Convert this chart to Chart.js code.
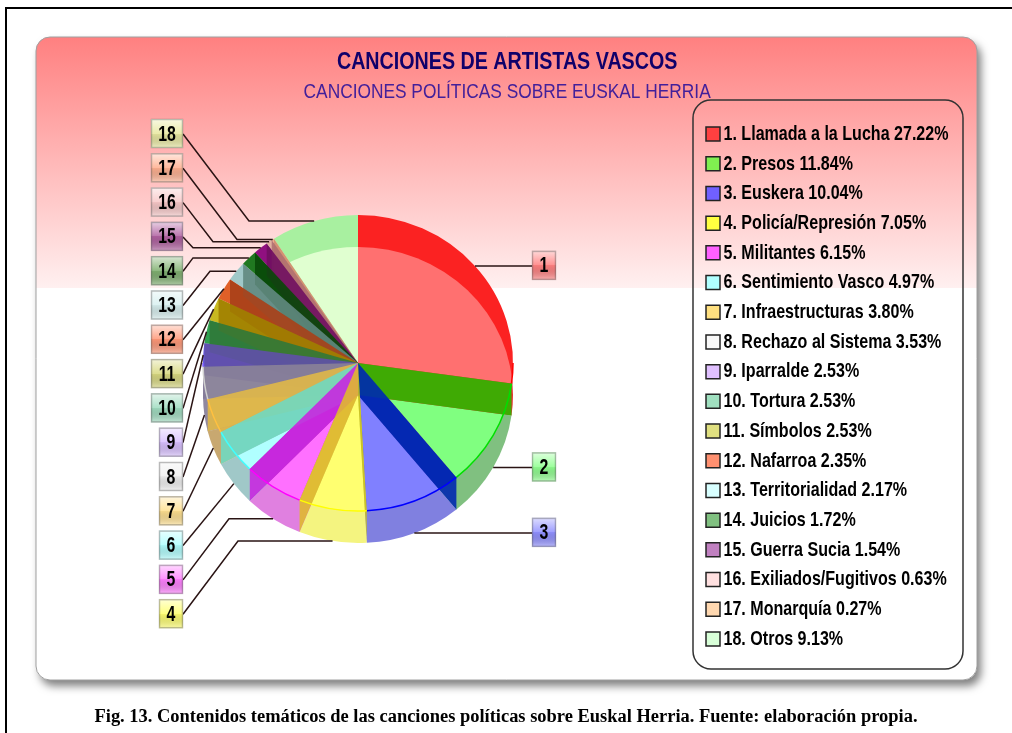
<!DOCTYPE html>
<html><head><meta charset="utf-8">
<style>
html,body{margin:0;padding:0;background:#fff;overflow:hidden}
#wrap{position:relative;width:1012px;height:733px}
canvas{position:absolute;left:0;top:0}
#cap{position:absolute;left:0;width:1012px;top:705px;text-align:center;font:bold 18.47px/22px "Liberation Serif",serif;color:#000;white-space:nowrap}
</style>
<script src="https://cdn.jsdelivr.net/npm/chart.js@4"></script>
</head><body><div id="wrap"><canvas id="c" width="1012" height="733"></canvas>
<div id="cap">Fig. 13. Contenidos temáticos de las canciones políticas sobre Euskal Herria. Fuente: elaboración propia.</div></div>
<script>
const categories=["Llamada a la Lucha","Presos","Euskera","Policía/Represión","Militantes","Sentimiento Vasco","Infraestructuras","Rechazo al Sistema","Iparralde","Tortura","Símbolos","Nafarroa","Territorialidad","Juicios","Guerra Sucia","Exiliados/Fugitivos","Monarquía","Otros"];
const values=[27.22,11.84,10.04,7.05,6.15,4.97,3.80,3.53,2.53,2.53,2.53,2.35,2.17,1.72,1.54,0.63,0.27,9.13];
const pureColors=["#ff0000","#00e000","#0000ff","#ffff00","#ff00ff","#40ffff","#ffc040","#d0d0d0","#8060ff","#30b070","#c0b000","#e05010","#90d0d0","#008000","#800080","#f0b0b0","#ffa060","#80ff80"];
const ringColors=["#fb2222","#e83030","#3030c0","#e0e060","#c030c0","#a0c8c8","#c8a870","#b0a8c0","#6858e0","#30a050","#c8b820","#e06028","#a0c8c8","#207820","#901080","#e0b0a0","#f0b090","#a8f0a0"];
const topColors=["#ff7070","#80ff80","#8080ff","#ffff70","#ff70ff","#b0ffff","#dcb44c","#a8a0b8","#7868d0","#409858","#b09810","#c05028","#70a898","#085008","#701070","#d8a090","#e0a080","#e0ffd0"];
const frontColors=["#e83030","#80c080","#8080e0","#f4f480","#e080e0","#a0c8c8","#c8a870","#9088a0","#6050a0","#30a050","#c8b820","#e06028","#a0c8c8","#207820","#901080","#e0b0a0","#f0b090","#a8f0a0"];
const wallColors=["#2cb800","#0028b0","#c8c020","#e0b830","#c828e0","#70d8c0","#e0b848","#8a8298","#6050a8","#307838","#a08000","#a84018","#608880","#084808","#701060","#b07070","#d09070"];
const legendFill=["#ff4040","#80f050","#7060ff","#ffff40","#ff60ff","#b0ffff","#ffe080","#f8f8f8","#e0c0ff","#a0e0c0","#e0e080","#ff9070","#d8ffff","#80c080","#c080c0","#ffe0e0","#ffd8b0","#d8ffd8"];
const labelTint=["#ff8080","#90ff90","#9090ff","#ffff70","#ff80ff","#b0ffff","#ffe090","#f0f0f0","#d8c0ff","#a0dcc0","#d8d880","#ff9878","#d8f0f0","#80b070","#b060a0","#f8c8c8","#ffb090","#e8e8a0"];
const leaderBends=[null,null,null,238,229,null,null,null,null,null,null,null,210,193,193,213,237,249];

const SANS='"Liberation Sans",sans-serif';
const CX=358,CY=363,SY=148/155,DEPTH=32;

const canvas=document.getElementById('c');
const ctx2=canvas.getContext('2d');
const rawFillText=ctx2.fillText.bind(ctx2);
// condense the text horizontally through fillText's maxWidth argument
ctx2.fillText=function(t,x,y){
  const f=ctx2.font;let k=1,dx=0;
  if(/bold 24px/.test(f))k=.82;
  else if(/(^| )20px/.test(f))k=.866;
  else if(/bold 21px/.test(f)){k=.765;dx=-7;}
  else if(/bold 22px/.test(f))k=.72;
  rawFillText(t,x+dx,y,ctx2.measureText(t).width*k);
};

function wedge(ctx,a,cy){
  ctx.beginPath();ctx.moveTo(CX,cy);
  ctx.ellipse(CX,cy,a.outerRadius,a.outerRadius*SY,0,a.startAngle,a.endAngle);
  ctx.closePath();
}
function rr(ctx,x,y,w,h,r){ctx.beginPath();ctx.roundRect(x,y,w,h,r);}

const pie3d={
  id:'pie3d',
  beforeDraw(chart){
    const c=chart.ctx;
    c.save();
    c.fillStyle='#fff';c.fillRect(0,0,1012,733);
    c.fillStyle='#000';c.fillRect(5,7,1007,2);c.fillRect(5,7,2,726);
    c.save();c.shadowColor='rgba(0,0,0,.5)';c.shadowBlur=9;c.shadowOffsetX=4;c.shadowOffsetY=6;
    c.fillStyle='#fff';rr(c,36,37,941,643,14);c.fill();c.restore();
    const g=c.createLinearGradient(0,37,0,288);
    g.addColorStop(0,'#ff8080');g.addColorStop(.999,'#fff0f0');g.addColorStop(1,'#fff');
    c.fillStyle=g;rr(c,36,37,941,643,14);c.fill();
    c.strokeStyle='#a0a0a0';c.lineWidth=1;c.stroke();
    c.strokeStyle='#333';c.lineWidth=1.5;rr(c,693,100,270,569,18);c.stroke();
    c.restore();
  },
  beforeDatasetsDraw(chart){
    const c=chart.ctx,arcs=chart.getDatasetMeta(0).data;
    arcs.forEach((a,i)=>{c.fillStyle=frontColors[i];wedge(c,a,CY+DEPTH);c.fill();});
    const a0=arcs[0];
    c.save();c.translate(CX,CY);c.scale(1,SY);c.translate(-a0.x,-a0.y);
  },
  afterDatasetsDraw(chart){
    const c=chart.ctx,arcs=chart.getDatasetMeta(0).data;
    c.restore();
    arcs.forEach((a,i)=>{
      c.save();wedge(c,a,CY);c.clip();
      c.fillStyle=topColors[i];wedge(c,a,CY+DEPTH);c.fill();c.restore();
    });
    // radial walls, painted from the back of the pie to its front
    const order=arcs.slice(0,-1).map((a,i)=>i).sort((p,q)=>Math.sin(arcs[p].endAngle)-Math.sin(arcs[q].endAngle));
    order.forEach(i=>{
      const e=arcs[i].endAngle,R=arcs[i].outerRadius;
      const x=CX+R*Math.cos(e),y=R*SY*Math.sin(e);
      c.globalAlpha=.9;c.fillStyle=wallColors[i];
      c.beginPath();c.moveTo(CX,CY);c.lineTo(x,CY+y);c.lineTo(x,CY+DEPTH+y);c.lineTo(CX,CY+DEPTH);c.closePath();c.fill();
      c.globalAlpha=1;
    });
    arcs.forEach((a,i)=>{
      const s=Math.max(a.startAngle,0),e=Math.min(a.endAngle,Math.PI);
      if(e>s){c.strokeStyle=pureColors[i];c.lineWidth=1.5;c.beginPath();c.ellipse(CX,CY,a.outerRadius,a.outerRadius*SY,0,s,e);c.stroke();}
    });
    // callouts
    arcs.forEach((a,i)=>{
      const m=(a.startAngle+a.endAngle)/2,R=a.outerRadius;
      const ax=CX+R*Math.cos(m),ay=(Math.sin(m)>0?CY+DEPTH:CY)+R*SY*Math.sin(m);
      const right=i<3;
      const ly=right?ay:134+34.3*(17-i);
      const bx=right?532:(i>=9?151:159),bw=right?24:183-bx;
      c.strokeStyle='#2a1414';c.lineWidth=1.5;c.beginPath();
      c.moveTo(ax,ay);
      if(leaderBends[i]!==null)c.lineTo(leaderBends[i],ay);
      c.lineTo(right?bx:183,ly);c.stroke();
      const t=ly-15,h=29;
      c.fillStyle=labelTint[i];c.fillRect(bx,t,bw,h);
      const g=c.createLinearGradient(0,t,0,t+h);
      g.addColorStop(0,'rgba(255,255,255,.7)');g.addColorStop(.5,'rgba(255,255,255,.12)');
      g.addColorStop(.5,'rgba(0,0,0,.03)');g.addColorStop(1,'rgba(255,255,255,.4)');
      c.fillStyle=g;c.fillRect(bx,t,bw,h);
      c.strokeStyle='rgba(90,90,90,.4)';c.lineWidth=1.5;c.strokeRect(bx+.5,t+.5,bw-1,h-1);
      c.fillStyle='#000';c.font='bold 22px '+SANS;c.textAlign='center';c.textBaseline='middle';
      c.fillText(String(i+1),bx+bw/2,ly+.5);
    });
  }
};

new Chart(canvas,{
  type:'pie',
  data:{labels:categories,datasets:[{data:values,backgroundColor:ringColors,borderWidth:0,radius:155,clip:false}]},
  options:{
    responsive:false,animation:false,
    layout:{padding:{top:42,bottom:2,left:37,right:34.7}},
    plugins:{
      tooltip:{enabled:false},
      title:{display:true,text:'CANCIONES DE ARTISTAS VASCOS',color:'#10006a',font:{family:SANS,size:24,weight:'bold'},padding:{top:6,bottom:2}},
      subtitle:{display:true,text:'CANCIONES POLÍTICAS SOBRE EUSKAL HERRIA',color:'#43209a',font:{family:SANS,size:20,weight:'normal'},padding:{top:2,bottom:0}},
      legend:{position:'right',align:'center',maxWidth:280,
        labels:{boxWidth:14,boxHeight:14,padding:8.7,color:'#1a0505',font:{family:SANS,size:21,weight:'bold'},
          generateLabels(){return categories.map((n,i)=>({text:(i+1)+'. '+n+' '+values[i].toFixed(2)+'%',fillStyle:legendFill[i],strokeStyle:'#222',lineWidth:1.5,index:i}));}}
      }
    }
  },
  plugins:[pie3d]
});
</script></body></html>
